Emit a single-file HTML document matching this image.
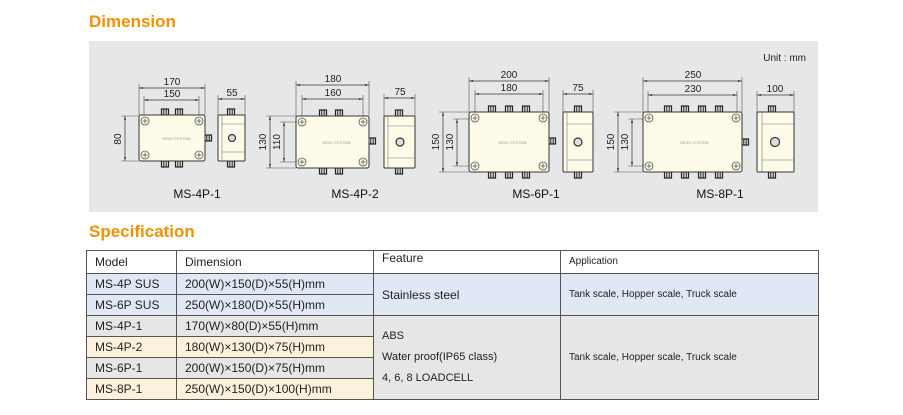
<!DOCTYPE html>
<html><head><style>
body{margin:0;background:#fff;width:903px;height:415px;overflow:hidden;font-family:"Liberation Sans",sans-serif;position:relative}
.h{position:absolute;left:89px;color:#f29100;font-weight:bold;font-size:17px}
table{position:absolute;left:86px;top:250px;border-collapse:collapse;font-size:12px;color:#222}
td{border:1px solid #555;padding:0 0 0 8px;height:20px;line-height:14px}
</style></head><body>
<div class="h" style="top:12px">Dimension</div>
<div class="h" style="top:222px">Specification</div>
<svg width="903" height="415" style="position:absolute;left:0;top:0" font-family="Liberation Sans, sans-serif">
<defs>
<g id="c"><rect x="-3.5" y="-3" width="7" height="6" fill="#e8e6d8" stroke="#222" stroke-width="1.2"/><line x1="-1.2" y1="-3" x2="-1.2" y2="3" stroke="#222"/><line x1="1.2" y1="-3" x2="1.2" y2="3" stroke="#222"/></g>
<g id="s"><circle r="4" fill="#fffbe9" stroke="#555" stroke-width="0.8"/><path d="M-2.5 0H2.5M0 -2.5V2.5" stroke="#555" stroke-width="0.8"/></g>
<marker id="a" markerWidth="6" markerHeight="6" refX="6" refY="3" orient="auto-start-reverse"><path d="M0 1.5L6 3L0 4.5z" fill="#333"/></marker>
</defs>
<rect x="89" y="41" width="729" height="171" fill="#e6e7e9"/>
<text x="806" y="61" font-size="10" text-anchor="end" fill="#222">Unit : mm</text>
<g stroke="#333" stroke-width="0.7" fill="none" marker-start="url(#a)" marker-end="url(#a)">
<line x1="139" y1="88" x2="205" y2="88"/><line x1="144" y1="100" x2="199" y2="100"/><line x1="218" y1="99" x2="245" y2="99"/><line x1="125" y1="116" x2="125" y2="161"/>
<line x1="296" y1="85" x2="369" y2="85"/><line x1="302" y1="99" x2="363" y2="99"/><line x1="384" y1="98" x2="415" y2="98"/><line x1="270" y1="116" x2="270" y2="168"/><line x1="284" y1="122" x2="284" y2="162"/>
<line x1="469" y1="81" x2="549" y2="81"/><line x1="475" y1="94" x2="543" y2="94"/><line x1="563" y1="94" x2="593" y2="94"/><line x1="443" y1="112" x2="443" y2="172"/><line x1="457" y1="119" x2="457" y2="166"/>
<line x1="643" y1="81" x2="742" y2="81"/><line x1="648" y1="95" x2="737" y2="95"/><line x1="757" y1="95" x2="794" y2="95"/><line x1="618" y1="112" x2="618" y2="172"/><line x1="632" y1="119" x2="632" y2="166"/>
</g>
<g stroke="#555" stroke-width="0.6">
<path d="M139 84V115M205 84V115M144 96V115M199 96V115M218 95V115M245 95V115M121 116H139M121 161H139"/>
<path d="M296 81V116M369 81V116M302 95V116M363 95V116M384 94V116M415 94V116M266 116H296M266 168H296M280 122H296M280 162H296"/>
<path d="M469 77V112M549 77V112M475 90V112M543 90V112M563 90V112M593 90V112M439 112H469M439 172H469M453 119H469M453 166H469"/>
<path d="M643 77V112M742 77V112M648 91V112M737 91V112M757 91V112M794 91V112M614 112H643M614 172H643M628 119H643M628 166H643"/>
</g>
<g font-size="10" fill="#222" text-anchor="middle">
<text x="172" y="85">170</text><text x="172" y="97">150</text><text x="232" y="96">55</text><text transform="translate(121 139) rotate(-90)">80</text>
<text x="333" y="82">180</text><text x="333" y="96">160</text><text x="400" y="95">75</text><text transform="translate(266 142) rotate(-90)">130</text><text transform="translate(280 142) rotate(-90)">110</text>
<text x="509" y="78">200</text><text x="509" y="91">180</text><text x="578" y="91">75</text><text transform="translate(439 142) rotate(-90)">150</text><text transform="translate(453 142) rotate(-90)">130</text>
<text x="693" y="78">250</text><text x="693" y="92">230</text><text x="775" y="92">100</text><text transform="translate(614 142) rotate(-90)">150</text><text transform="translate(628 142) rotate(-90)">130</text>
</g>
<g font-size="12" fill="#111" text-anchor="middle">
<text x="197" y="198">MS-4P-1</text><text x="355" y="198">MS-4P-2</text><text x="536" y="198">MS-6P-1</text><text x="720" y="198">MS-8P-1</text>
</g>
<!-- connectors -->
<g>
<use href="#c" x="165" y="112"/><use href="#c" x="179" y="112"/><use href="#c" x="165" y="164"/><use href="#c" x="179" y="164"/><use href="#c" x="231" y="112"/><use href="#c" x="231" y="164"/><use href="#c" x="208" y="138"/>
<use href="#c" x="323" y="113"/><use href="#c" x="339" y="113"/><use href="#c" x="323" y="171"/><use href="#c" x="339" y="171"/><use href="#c" x="399" y="113"/><use href="#c" x="399" y="171"/><use href="#c" x="372" y="141"/>
<use href="#c" x="492" y="109"/><use href="#c" x="509" y="109"/><use href="#c" x="526" y="109"/><use href="#c" x="492" y="175"/><use href="#c" x="509" y="175"/><use href="#c" x="526" y="175"/><use href="#c" x="578" y="109"/><use href="#c" x="578" y="175"/><use href="#c" x="552" y="141"/>
<use href="#c" x="668" y="109"/><use href="#c" x="685" y="109"/><use href="#c" x="702" y="109"/><use href="#c" x="719" y="109"/><use href="#c" x="668" y="175"/><use href="#c" x="685" y="175"/><use href="#c" x="702" y="175"/><use href="#c" x="719" y="175"/><use href="#c" x="772" y="109"/><use href="#c" x="772" y="175"/><use href="#c" x="745" y="142"/>
</g>
<!-- boxes -->
<g fill="#fffbe9" stroke="#333" stroke-width="1">
<rect x="139" y="115" width="66" height="46" rx="2"/><rect x="218" y="115" width="27" height="46" rx="1"/>
<rect x="296" y="116" width="73" height="52" rx="2"/><rect x="384" y="116" width="31" height="52" rx="1"/>
<rect x="469" y="112" width="80" height="60" rx="2"/><rect x="563" y="112" width="30" height="60" rx="1"/>
<rect x="643" y="112" width="99" height="60" rx="2"/><rect x="757" y="112" width="37" height="60" rx="1"/>
</g>
<g stroke="#777" stroke-width="0.6" fill="none">
<path d="M222 115V161M222 124H245M222 152H245"/>
<path d="M388 116V168M388 126H415M388 158H415"/>
<path d="M567 112V172M567 124H593M567 160H593"/>
<path d="M762 112V172M762 124H794M762 160H794"/>
</g>
<g fill="#ddd" stroke="#333" stroke-width="1.2">
<circle cx="232" cy="138" r="3.5"/><circle cx="400" cy="142" r="4"/><circle cx="578" cy="142" r="4"/><circle cx="775" cy="142" r="4.5"/>
</g>
<g>
<use href="#s" x="145" y="121"/><use href="#s" x="199" y="121"/><use href="#s" x="145" y="155"/><use href="#s" x="199" y="155"/>
<use href="#s" x="302" y="122"/><use href="#s" x="363" y="122"/><use href="#s" x="302" y="162"/><use href="#s" x="363" y="162"/>
<use href="#s" x="475" y="118"/><use href="#s" x="543" y="118"/><use href="#s" x="475" y="166"/><use href="#s" x="543" y="166"/>
<use href="#s" x="649" y="118"/><use href="#s" x="736" y="118"/><use href="#s" x="649" y="166"/><use href="#s" x="736" y="166"/>
</g>
<g font-size="4" fill="#999">
<text x="162" y="140">SENS SYSTEM</text><text x="322" y="144">SENS SYSTEM</text><text x="498" y="144">SENS SYSTEM</text><text x="680" y="144">SENS SYSTEM</text>
</g>
</svg>
<table>
<tr style="background:#fff"><td style="width:81px;height:22px">Model</td><td style="width:188px">Dimension</td><td style="width:178px;vertical-align:top">Feature</td><td style="width:249px;font-size:10px">Application</td></tr>
<tr style="background:#dfe8f4"><td>MS-4P SUS</td><td>200(W)×150(D)×55(H)mm</td><td rowspan="2">Stainless steel</td><td rowspan="2" style="font-size:10px">Tank scale, Hopper scale, Truck scale</td></tr>
<tr style="background:#dfe8f4"><td>MS-6P SUS</td><td>250(W)×180(D)×55(H)mm</td></tr>
<tr style="background:#e6e6e6"><td>MS-4P-1</td><td>170(W)×80(D)×55(H)mm</td><td rowspan="4" style="background:#e6e6e6;font-size:11px;line-height:21px">ABS<br>Water proof(IP65 class)<br>4, 6, 8 LOADCELL</td><td rowspan="4" style="background:#e6e6e6;font-size:10px">Tank scale, Hopper scale, Truck scale</td></tr>
<tr style="background:#fdf1dc"><td>MS-4P-2</td><td>180(W)×130(D)×75(H)mm</td></tr>
<tr style="background:#e6e6e6"><td>MS-6P-1</td><td>200(W)×150(D)×75(H)mm</td></tr>
<tr style="background:#fdf1dc"><td>MS-8P-1</td><td>250(W)×150(D)×100(H)mm</td></tr>
</table>
</body></html>
